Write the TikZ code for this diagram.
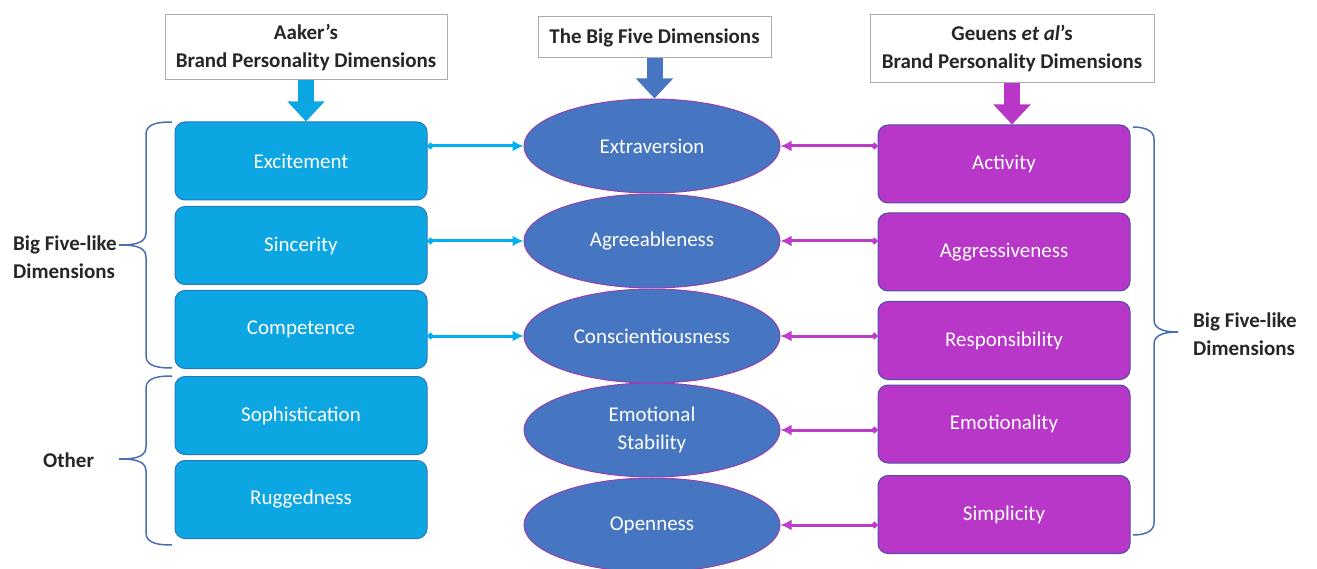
\documentclass[tikz,border=0pt]{standalone}
\usepackage{fontspec}
\setmainfont{Carlito}
\usetikzlibrary{positioning,calc,shapes,arrows.meta}

\definecolor{aakerfill}{RGB}{12,166,226}
\definecolor{aakerline}{RGB}{40,118,190}
\definecolor{bigfill}{RGB}{70,118,194}
\definecolor{bigline}{RGB}{150,64,176}
\definecolor{geufill}{RGB}{184,54,200}
\definecolor{geuline}{RGB}{78,80,168}
\definecolor{cyanlink}{RGB}{0,176,240}
\definecolor{pinklink}{RGB}{188,62,200}
\definecolor{bracecol}{RGB}{72,110,180}

\begin{document}
\begin{tikzpicture}[x=1pt,y=1pt]
    \tikzstyle{every node}=[font=\fontsize{21}{28}\selectfont,inner sep=0]
    \tikzstyle{header}=[draw=gray!65,line width=1pt,fill=white,align=center,font=\fontsize{21}{28}\selectfont\bfseries,text=black!85]
    \tikzstyle{aaker}=[rectangle,rounded corners=10,fill=aakerfill,draw=aakerline,line width=1pt,minimum width=252,minimum height=78,text=white]
    \tikzstyle{geuens}=[aaker,fill=geufill,draw=geuline]
    \tikzstyle{bigfive}=[ellipse,fill=bigfill,draw=bigline,line width=1pt,minimum width=256,minimum height=94,text=white,align=center]
    \tikzstyle{label}=[align=left,font=\fontsize{21}{28}\selectfont\bfseries,text=black!85]
    \tikzstyle{blockarrow}=[line width=16,-{Triangle[width=36,length=20]}]
    \tikzstyle{link}=[line width=3,{Circle[length=6]}-{Latex[length=11,width=11]}]
    \tikzstyle{bracket}=[bracecol,line width=1.5]
    {
        \useasboundingbox (0,0) rectangle (1317,-569);

        % column headers
        \node[header,minimum width=282,minimum height=65] (hL) at (306,-47.5) {Aaker's\\Brand Personality Dimensions};
        \node[header,minimum width=233,minimum height=41] (hM) at (654.5,-37.5) {The Big Five Dimensions};
        \node[header,minimum width=284,minimum height=68] (hR) at (1012,-49) {Geuens \textit{et al}'s\\Brand Personality Dimensions};

        % Aaker
        \node[aaker] (exc) at (301,-161) {Excitement};
        \node[aaker] (sinc) at (301,-245.5) {Sincerity};
        \node[aaker] (comp) at (301,-329.5) {Competence};
        \node[aaker] (soph) at (301,-415.5) {Sophistication};
        \node[aaker] (rugg) at (301,-499.5) {Ruggedness};

        % Big Five
        \node[bigfive] (extra) at (652,-146) {Extraversion};
        \node[bigfive] (agree) at (652,-241) {Agreeableness};
        \node[bigfive] (consc) at (652,-336) {Conscientiousness};
        \node[bigfive] (emost) at (652,-430) {Emotional\\Stability};
        \node[bigfive] (open) at (652,-525) {Openness};

        % Geuens et al
        \node[geuens] (activ) at (1004,-164) {Activity};
        \node[geuens] (aggr) at (1004,-252) {Aggressiveness};
        \node[geuens] (resp) at (1004,-340.5) {Responsibility};
        \node[geuens] (emot) at (1004,-424) {Emotionality};
        \node[geuens] (simp) at (1004,-514.5) {Simplicity};

        % group labels
        \node[label,anchor=west] (bflL) at (13,-257) {Big Five-like\\Dimensions};
        \node[label,anchor=west] (other) at (43,-460) {Other};
        \node[label,anchor=west] (bflR) at (1193,-334) {Big Five-like\\Dimensions};

        % block arrows
        \draw[blockarrow,aakerfill] (hL.south) -- (hL.south |- exc.north);
        \draw[blockarrow,bigfill] (hM.south) -- (hM.south |- extra.north);
        \draw[blockarrow,geufill] (hR.south) -- (hR.south |- activ.north);

        % links
        \draw[link,cyanlink] (exc.east |- extra.west) -- (extra.west);
        \draw[link,cyanlink] (sinc.east |- agree.west) -- (agree.west);
        \draw[link,cyanlink] (comp.east |- consc.west) -- (consc.west);

        \draw[link,pinklink] (activ.west |- extra.east) -- (extra.east);
        \draw[link,pinklink] (aggr.west |- agree.east) -- (agree.east);
        \draw[link,pinklink] (resp.west |- consc.east) -- (consc.east);
        \draw[link,pinklink] (emot.west |- emost.east) -- (emost.east);
        \draw[link,pinklink] (simp.west |- open.east) -- (open.east);

        % braces
        \draw[bracket] (172,-122) to[out=180,in=90] (146,-134) -- (146,-233)
            to[out=-90,in=0] (119,-245) to[out=0,in=90] (146,-257) -- (146,-356)
            to[out=-90,in=180] (172,-368);
        \draw[bracket] (172,-376) to[out=180,in=90] (146,-388) -- (146,-447)
            to[out=-90,in=0] (119,-459) to[out=0,in=90] (146,-471) -- (146,-533)
            to[out=-90,in=180] (172,-545);
        \draw[bracket] (1133,-127) to[out=0,in=90] (1154,-139) -- (1154,-320)
            to[out=-90,in=180] (1178,-332) to[out=180,in=90] (1154,-344) -- (1154,-523)
            to[out=-90,in=0] (1133,-535);
    }
\end{tikzpicture}
\end{document}
